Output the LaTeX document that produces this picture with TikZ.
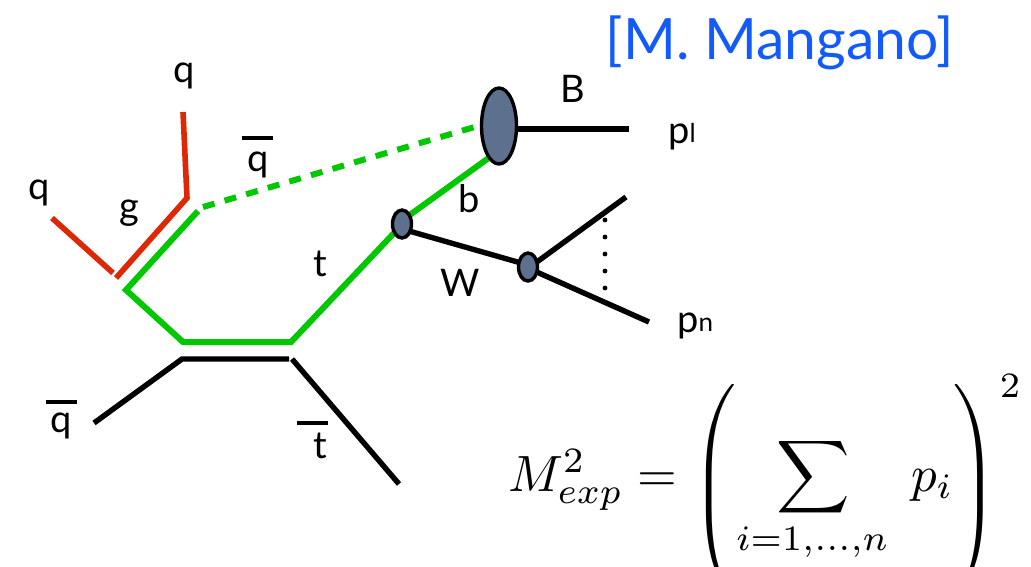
\documentclass[tikz,border=0pt]{standalone}
\usepackage{amsmath}
\usepackage{fontspec}
\setmainfont{Lato}
\usetikzlibrary{shapes.geometric}
\definecolor{rd}{RGB}{222,40,5}
\definecolor{gn}{RGB}{0,200,0}
\definecolor{bl}{RGB}{18,90,250}
\definecolor{blob}{RGB}{93,113,143}
\tikzset{
  x=1pt,y=-1pt,
  redl/.style={draw=rd,line width=5.6pt,line join=miter},
  grnl/.style={draw=gn,line width=6pt,line join=miter},
  blkl/.style={draw=black,line width=5.4pt,line join=miter},
  blobn/.style={ellipse,draw=black,line width=3.4pt,fill=blob,inner sep=0pt},
  lab/.style={font=\fontsize{38}{42}\selectfont,inner sep=0pt,text=black},
  barl/.style={draw=black,line width=4.4pt},
  mth/.style={inner sep=0pt,scale=5.1}
}
\begin{document}
\begin{tikzpicture}
\useasboundingbox (0,0) rectangle (1031,566);
\clip (0,0) rectangle (1031,566);
\coordinate (r1) at (52,218);
\coordinate (r2) at (113,273);
\coordinate (r3) at (116,278);
\coordinate (r4) at (187,198);
\coordinate (r5) at (183,112);
\coordinate (g1) at (198,211);
\coordinate (g2) at (126,290);
\coordinate (g3) at (183,342);
\coordinate (g4) at (291,342);
\coordinate (g5) at (395,232);
\coordinate (d1) at (203,207);
\coordinate (d2) at (478,126);
\coordinate (b1) at (400,222);
\coordinate (b2) at (490,157);
\coordinate (k1) at (94,423);
\coordinate (k2) at (182,359);
\coordinate (k3) at (289,359);
\coordinate (k4) at (292,359);
\coordinate (k5) at (399,484);
\coordinate (p1a) at (510,129);
\coordinate (p1end) at (629,129);
\coordinate (t1) at (402,229);
\coordinate (t2) at (528,265);
\coordinate (w1) at (530,267);
\coordinate (w1end) at (626,197);
\coordinate (w2) at (530,269);
\coordinate (w2end) at (649,322);
\coordinate (dt1) at (605,220);
\coordinate (dt2) at (605,288);
\draw[redl] (r1) -- (r2);
\draw[redl] (r3) -- (r4) -- (r5);
\draw[grnl] (g1) -- (g2) -- (g3) -- (g4) -- (g5);
\draw[grnl,dash pattern=on 12pt off 10.5pt] (d1) -- (d2);
\draw[grnl] (b1) -- (b2);
\draw[blkl] (k1) -- (k2) -- (k3);
\draw[blkl] (k4) -- (k5);
\draw[blkl] (p1a) -- (p1end);
\draw[blkl] (t1) -- (t2);
\draw[blkl] (w1) -- (w1end);
\draw[blkl] (w2) -- (w2end);
\draw[black,line width=4.8pt,line cap=round,dash pattern=on 0pt off 17pt] (dt1) -- (dt2);
\node[blobn,minimum width=35pt,minimum height=76pt] (B) at (499,126) {};
\node[blobn,minimum width=19pt,minimum height=28pt] (T) at (402,224) {};
\node[blobn,minimum width=19pt,minimum height=28pt] (W) at (528,267) {};
\node[lab] (lq1) at (184,76) {q};
\node[lab] (lq2) at (39,193) {q};
\node[lab] (lg) at (129,213) {g};
\node[lab] (lqb) at (258,165) {q};
\draw[barl] (242,138) -- (273,138);
\node[lab] (lt) at (320,264) {t};
\node[lab] (lb) at (469,199) {b};
\node[lab] (lB) at (573,89) {B};
\node[lab] (lW) at (460,283) {W};
\node[lab,anchor=west] (lp1) at (668,137) {p\raisebox{1pt}{\fontsize{26}{26}\selectfont l}};
\node[lab,anchor=west] (lpn) at (677,326) {p\raisebox{1pt}{\fontsize{26}{26}\selectfont n}};
\node[lab] (lqc) at (61,426) {q};
\draw[barl] (46,402) -- (77,402);
\node[lab] (ltb) at (320,446) {t};
\draw[barl] (297,423) -- (328,423);
\node[font=\fontsize{57}{62}\selectfont,text=bl,inner sep=0pt] (title) at (780,43) {[M. Mangano]};
\node[mth,anchor=base west] (eqm) at (507,491) {$M_{exp}^2=$};
\node[mth] (lp) at (717,492) {$\left(\vcenter{\hbox{\rule{0pt}{41pt}}}\right.$};
\node[mth] (sm) at (813,477) {$\displaystyle\sum$};
\node[mth] (lim) at (812,542) {$\scriptstyle i=1,\dots,n$};
\node[mth,anchor=base west] (pi) at (910,491) {$p_i$};
\node[mth] (rp) at (973,492) {$\left.\vcenter{\hbox{\rule{0pt}{41pt}}}\right)$};
\node[mth] (sq) at (1010,386) {$\scriptstyle 2$};
\end{tikzpicture}
\end{document}
